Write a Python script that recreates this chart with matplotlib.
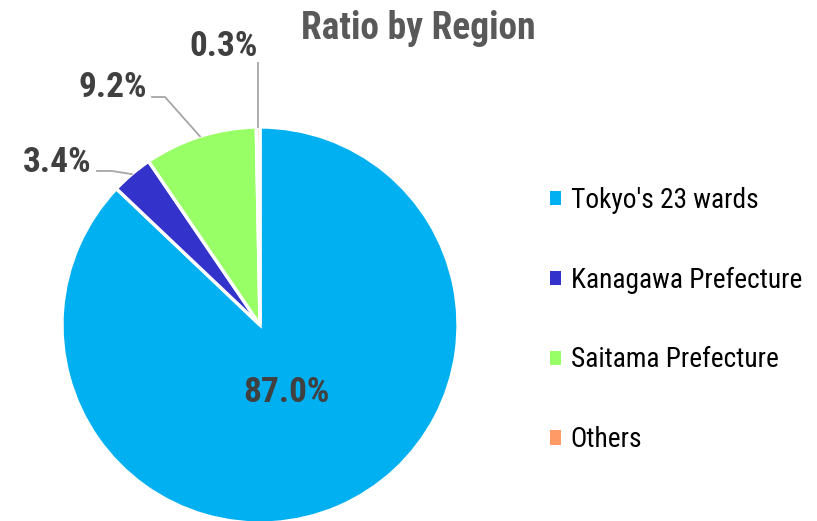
import numpy as np
import matplotlib
matplotlib.use("Agg")
import matplotlib.pyplot as plt
from matplotlib.patches import Patch

categories = ["Tokyo's 23 wards", "Kanagawa Prefecture", "Saitama Prefecture", "Others"]
values = [87.0, 3.4, 9.2, 0.3]
colors = ["#00B0F0", "#3333CC", "#99FF66", "#FF9966"]
title = "Ratio by Region"

FONT = ["Roboto Condensed", "Liberation Sans", "DejaVu Sans"]
plt.rcParams["font.family"] = FONT

W, H = 817, 521
fig = plt.figure(figsize=(W / 100, H / 100), dpi=100)
cx, cy, R = 260, 325, 198
ax = fig.add_axes([(cx - R) / W, (H - cy - R) / H, 2 * R / W, 2 * R / H])

wedges, _ = ax.pie(values, colors=colors, startangle=90, counterclock=False,
                   radius=1, wedgeprops=dict(edgecolor="white", linewidth=2.4),
                   frame=True)
ax.set_xlim(-1, 1)
ax.set_ylim(-1, 1)
ax.set_aspect("equal")
ax.axis("off")

def px(x, y):
    return ((x - cx) / R, (cy - y) / R)

lab_color = "#404040"
line_color = "#A6A6A6"
lab_fs = 25.5

def mid(w):
    a = np.deg2rad((w.theta1 + w.theta2) / 2)
    return np.cos(a), np.sin(a)

# Tokyo label inside
mx, my = mid(wedges[0])
ax.text(mx * 0.34, my * 0.37, f"{values[0]:.1f}%", ha="center", va="center",
        fontsize=lab_fs, fontweight="bold", color=lab_color)

# Kanagawa
mx, my = mid(wedges[1])
e = px(112, 171)
s = px(97, 171)
ax.plot([mx, e[0], s[0]], [my, e[1], s[1]], color=line_color, lw=1.3, clip_on=False)
t = px(92, 172)
ax.text(t[0], t[1], f"{values[1]:.1f}%", ha="right", va="baseline",
        fontsize=lab_fs, fontweight="bold", color=lab_color)

# Saitama
mx, my = mid(wedges[2])
e = px(165, 97)
s = px(152, 97)
ax.plot([mx, e[0], s[0]], [my, e[1], s[1]], color=line_color, lw=1.3, clip_on=False)
t = px(147, 97)
ax.text(t[0], t[1], f"{values[2]:.1f}%", ha="right", va="baseline",
        fontsize=lab_fs, fontweight="bold", color=lab_color)

# Others
mx, my = mid(wedges[3])
s = px(257, 63)
ax.plot([mx, mx], [my, s[1]], color=line_color, lw=1.3, clip_on=False)
t = px(223.5, 56)
ax.text(t[0], t[1], f"{values[3]:.1f}%", ha="center", va="baseline",
        fontsize=lab_fs, fontweight="bold", color=lab_color)

fig.text(418.5 / W, 1 - 39 / H, title, ha="center", va="baseline", fontsize=27,
         fontweight="bold", color="#595959")

handles = [Patch(facecolor=c, edgecolor="none") for c in colors]
fig.legend(handles, categories, loc="center left", bbox_to_anchor=(550 / W, 1 - 320 / H),
           frameon=False, fontsize=19.7, handlelength=0.42, handleheight=0.42,
           handletextpad=0.33, labelspacing=1.93, borderaxespad=0, borderpad=0)

fig.savefig("out.png", dpi=100)
